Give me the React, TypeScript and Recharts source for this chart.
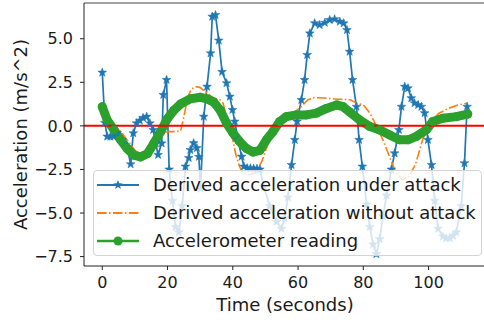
import React from 'react';
import { LineChart, Line, XAxis, YAxis, ReferenceLine, Legend } from 'recharts';

// Derived acceleration under attack (irregular sample times, seconds)
const attackTime = [
  0, 0.8, 1.5, 2.5, 3.4, 4.6, 6.1, 7.6, 8.7, 9.5, 10.5, 11.5, 12.5, 13.6, 14.6, 15.6, 16.4, 17.1, 18.2, 18.7,
  19.7, 20.5, 21.5, 22.5, 23.5, 24.5, 25.5, 26.5, 27.0, 28.0, 29.0, 29.6, 30.1, 31.1, 32.1, 33.2, 33.7, 34.7,
  35.7, 36.7, 38.1, 39.1, 39.9, 40.6, 41.6, 42.7, 43.4, 44.4, 45.4, 46.4, 47.4, 48.3, 49.5, 51.3, 53.4, 54.9,
  55.9, 56.9, 58.0, 59.0, 59.7, 61.0, 62.0, 62.8, 63.6, 65.1, 66.6, 68.2, 69.7, 71.2, 72.8, 74.0, 75.0, 75.8,
  76.7, 77.9, 78.7, 79.7, 81.0, 82.0, 83.0, 84.0, 85.0, 86.0, 87.1, 88.6, 89.6, 90.9, 91.7, 92.7, 93.7, 94.7,
  95.7, 96.8, 97.8, 98.8, 99.8, 100.9, 101.9, 102.9, 104.4, 105.4, 106.5, 107.5, 108.5, 110.0, 111.0, 111.8,
];
const attackValue = [
  3.06, 0.17, -0.61, -0.61, -0.6, -0.42, -0.8, -1.19, -2.2, -0.42, 0.15, 0.3, 0.46, 0.53, 0.15, -0.23, -1.0, -1.66, -1.0, 1.78,
  2.64, -2.5, -4.3, -5.8, -6.1, -4.6, -2.33, -1.84, -1.38, -0.99, -1.27, -1.77, -3.6, 0.53, 2.25, 4.17, 6.27, 6.36,
  4.9, 3.1, 2.45, 1.68, 0.92, 0.25, -0.8, -1.76, -2.33, -2.43, -2.43, -2.45, -2.45, -2.5, -3.5, -4.6, -5.5, -5.9,
  -5.3, -4.1, -2.24, -0.8, 0.25, 1.49, 2.64, 4.07, 5.31, 5.89, 5.79, 5.92, 6.08, 6.12, 5.98, 5.89, 5.5, 4.26,
  2.64, 1.1, -0.8, -2.33, -4.5, -5.8, -6.8, -7.35, -6.5, -5.2, -4.0, -2.5, -1.57, -0.23, 1.1, 2.25, 2.16, 1.59,
  1.3, 1.2, 1.1, 0.73, -0.8, -2.24, -4.3, -5.9, -6.35, -6.45, -6.45, -6.3, -6.1, -4.6, -2.14, 1.1,
];

// Derived acceleration without attack
const cleanTime = [
  0, 2, 4, 6, 8, 10, 12, 14, 16, 18, 20, 22, 24, 25, 26, 27, 28, 29, 30, 32, 34, 36, 37, 38, 39, 40, 41, 42, 43, 45,
  47, 49, 51, 53, 55, 57, 59, 61, 62, 63, 65, 68, 72, 76, 78, 80, 82, 84, 86, 88, 90, 92, 94, 96, 98, 100, 103, 106,
  109, 112,
];
const cleanValue = [
  1.0, 0.5, 0.0, -0.4, -0.9, -1.4, -1.7, -1.5, -1.0, -0.5, -0.33, -0.33, -0.3, 0.5, 1.5, 2.0, 2.2, 2.25, 2.2, 1.9,
  1.6, 1.5, 1.3, 0.6, -0.2, -0.8, -1.7, -2.3, -2.7, -2.8, -2.7, -2.0, -0.9, 0.0, 0.5, 0.7, 0.8, 1.1, 1.3, 1.5, 1.62,
  1.6, 1.53, 1.5, 1.3, 1.2, 0.73, 0.0, -0.8, -1.76, -2.7, -3.1, -2.9, -2.2, -0.9, 0.1, 0.7, 1.0, 1.2, 1.3,
];

// Accelerometer reading
const sensorTime = [
  0, 1.5, 3.6, 5.6, 7.6, 9.7, 11.7, 13.8, 15.8, 17.9, 19.9, 21.9, 24.0, 27.0, 30.1, 32.1, 34.2, 36.2, 38.1, 40.1,
  42.1, 44.2, 46.2, 48.3, 50.3, 52.3, 54.4, 56.4, 59.5, 62.6, 65.6, 68.7, 71.8, 73.8, 75.8, 78.9, 82.0, 85.0, 88.1,
  91.1, 93.7, 96.3, 99.3, 101.3, 104.4, 108.5, 112,
];
const sensorValue = [
  1.1, 0.34, -0.23, -0.8, -1.3, -1.68, -1.78, -1.6, -1.0, -0.33, 0.4, 0.88, 1.26, 1.55, 1.64, 1.55, 1.36, 0.88, 0.15,
  -0.42, -0.9, -1.3, -1.5, -1.4, -0.8, -0.33, 0.25, 0.53, 0.63, 0.63, 0.73, 1.0, 1.2, 1.1, 0.8, 0.34, -0.04, -0.23,
  -0.52, -0.8, -0.8, -0.6, -0.23, 0.25, 0.44, 0.53, 0.68,
];

const xTicks = [0, 20, 40, 60, 80, 100];
const yTicks = [-7.5, -5, -2.5, 0, 2.5, 5];

const attackData = attackTime.map((t, i) => ({ t, v: attackValue[i] }));
const cleanData = cleanTime.map((t, i) => ({ t, v: cleanValue[i] }));
const sensorData = sensorTime.map((t, i) => ({ t, v: sensorValue[i] }));

const BLUE = '#1f77b4';
const ORANGE = '#ff7f0e';
const GREEN = '#2ca02c';
const FONT = '"DejaVu Sans", sans-serif';

function starPoints(cx: number, cy: number, ro: number, ri: number) {
  const pts: string[] = [];
  for (let k = 0; k < 10; k++) {
    const r = k % 2 === 0 ? ro : ri;
    const a = -Math.PI / 2 + (k * Math.PI) / 5;
    pts.push(`${cx + r * Math.cos(a)},${cy + r * Math.sin(a)}`);
  }
  return pts.join(' ');
}

const StarDot = (props: any) => {
  const { cx, cy, index } = props;
  if (cx == null || cy == null) return <g key={index} />;
  return <polygon key={index} points={starPoints(cx, cy, 4.6, 1.9)} fill={BLUE} stroke={BLUE} strokeWidth={0.5} />;
};

const LegendBox = () => {
  const rows = [
    { label: 'Derived acceleration under attack', kind: 'star' },
    { label: 'Derived acceleration without attack', kind: 'dash' },
    { label: 'Accelerometer reading', kind: 'dot' },
  ];
  return (
    <div
      style={{
        width: 387,
        height: 84,
        background: 'rgba(255,255,255,0.8)',
        border: '1px solid #d4d4d4',
        borderRadius: 4,
        fontFamily: FONT,
        fontSize: 18,
        color: '#1a1a1a',
      }}
    >
      {rows.map((r) => (
        <div key={r.label} style={{ height: 28, display: 'flex', alignItems: 'center' }}>
          <svg width={44} height={14} style={{ marginLeft: 3, marginRight: 12 }}>
            {r.kind === 'star' && (
              <>
                <line x1={0} y1={7} x2={42} y2={7} stroke={BLUE} strokeWidth={2} />
                <polygon points={starPoints(21, 7, 5, 2.1)} fill={BLUE} />
              </>
            )}
            {r.kind === 'dash' && (
              <line x1={0} y1={7} x2={42} y2={7} stroke={ORANGE} strokeWidth={2} strokeDasharray="9.6 2.4 1.5 2.4" />
            )}
            {r.kind === 'dot' && (
              <>
                <line x1={0} y1={7} x2={42} y2={7} stroke={GREEN} strokeWidth={2.5} />
                <circle cx={21} cy={7} r={4.5} fill={GREEN} />
              </>
            )}
          </svg>
          <span style={{ lineHeight: '28px' }}>{r.label}</span>
        </div>
      ))}
    </div>
  );
};

const YLabel = (props: any) => {
  const vb = props.viewBox || { y: 0, height: 270 };
  const cx = 20;
  const cy = vb.y + vb.height / 2;
  return (
    <text
      x={cx}
      y={cy}
      transform={`rotate(-90 ${cx} ${cy})`}
      textAnchor="middle"
      dominantBaseline="central"
      fontFamily={FONT}
      fontSize={18}
      fill="#1a1a1a"
    >
      Acceleration (m/s^2)
    </text>
  );
};

const fmtY = (v: number) => (v < 0 ? '\u2212' + Math.abs(v).toFixed(1) : v.toFixed(1));

export default function App() {
  return (
    <div style={{ position: 'fixed', left: 0, top: 0, width: 484, height: 327, overflow: 'hidden', background: '#fff' }}>
      <LineChart width={490} height={327} margin={{ top: 3, right: 4, bottom: 0, left: 0 }}>
        <XAxis
          dataKey="t"
          type="number"
          domain={[-5.6, 117.6]}
          allowDataOverflow
          ticks={xTicks}
          tickSize={4}
          tickMargin={7}
          height={61}
          stroke="#222"
          tick={{ fill: '#1a1a1a', fontSize: 16, fontFamily: FONT }}
          label={{ value: 'Time (seconds)', position: 'insideBottom', offset: 16, fill: '#1a1a1a', fontSize: 18, fontFamily: FONT }}
        />
        <YAxis
          dataKey="v"
          type="number"
          domain={[-8.04, 7.05]}
          allowDataOverflow
          ticks={yTicks}
          tickFormatter={fmtY}
          tickSize={4}
          tickMargin={7}
          width={84}
          stroke="#222"
          tick={{ fill: '#1a1a1a', fontSize: 16, fontFamily: FONT }}
          label={<YLabel />}
        />
        <ReferenceLine y={7.05} stroke="#444" strokeWidth={1} ifOverflow="visible" />
        <Line
          data={attackData}
          dataKey="v"
          type="linear"
          stroke={BLUE}
          strokeWidth={1.7}
          dot={StarDot}
          activeDot={false}
          isAnimationActive={false}
          name="Derived acceleration under attack"
        />
        <Line
          data={cleanData}
          dataKey="v"
          type="linear"
          stroke={ORANGE}
          strokeWidth={1.6}
          strokeDasharray="9.6 2.4 1.5 2.4"
          dot={false}
          activeDot={false}
          isAnimationActive={false}
          name="Derived acceleration without attack"
        />
        <Line
          data={sensorData}
          dataKey="v"
          type="linear"
          stroke={GREEN}
          strokeWidth={9}
          strokeLinejoin="round"
          strokeLinecap="round"
          dot={{ r: 4.5, fill: GREEN, stroke: 'none' }}
          activeDot={false}
          isAnimationActive={false}
          name="Accelerometer reading"
        />
        <ReferenceLine y={0} stroke="#ff0000" strokeWidth={2} />
        <Legend
          layout="vertical"
          align="center"
          verticalAlign="middle"
          content={<LegendBox />}
          wrapperStyle={{ left: 93, top: 170, width: 389, height: 86, position: 'absolute' }}
        />
      </LineChart>
    </div>
  );
}
